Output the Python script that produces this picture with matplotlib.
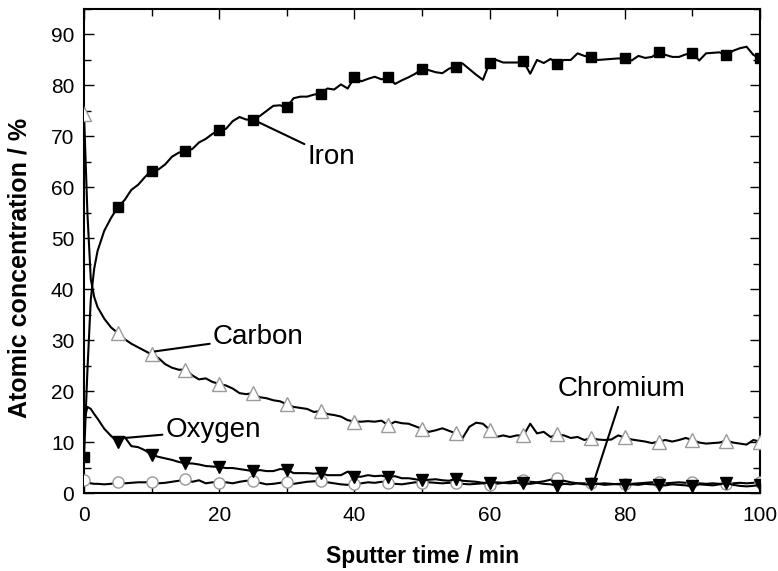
import numpy as np
import matplotlib
matplotlib.use("Agg")
import matplotlib.pyplot as plt
from matplotlib.ticker import MultipleLocator

plt.rcParams['font.family'] = ['Liberation Sans', 'DejaVu Sans']

# sputter time (min): fine steps at the start, then every minute
time_min = [0, 0.5, 1, 1.5, 2] + list(range(3, 101))

iron = [7.0, 24.0, 38.0, 44.0, 47.5, 51.5, 54.0, 56.1, 57.5, 59.5,
        60.5, 62.0, 63.3, 63.5, 64.5, 66.0, 66.8, 67.2, 67.5, 68.8,
        69.5, 70.5, 71.2, 71.5, 73.0, 73.8, 73.3, 73.3, 74.0, 75.0,
        76.0, 76.1, 75.7, 77.5, 77.8, 77.8, 78.2, 78.4, 79.4, 79.2,
        80.2, 79.4, 81.6, 80.8, 81.3, 81.7, 81.2, 81.6, 80.3, 81.0,
        81.6, 82.3, 83.3, 83.0, 82.6, 82.4, 83.3, 83.7, 84.3, 83.2,
        82.1, 81.1, 84.5, 85.0, 84.5, 84.5, 84.5, 84.7, 82.3, 85.0,
        84.4, 85.2, 84.3, 85.0, 85.0, 86.3, 85.8, 85.5, 85.0, 85.1,
        85.2, 85.3, 85.3, 84.9, 85.8, 85.4, 85.6, 86.5, 86.0, 85.6,
        85.6, 86.1, 86.3, 84.9, 86.3, 86.4, 86.5, 85.9, 86.8, 87.3,
        87.6, 86.0, 85.3]

carbon = [74.3, 55.0, 42.0, 38.5, 36.5, 34.2, 32.5, 31.4, 30.2, 29.3,
          28.6, 27.9, 27.2, 26.5, 25.3, 24.6, 24.2, 24.2, 23.1, 22.3,
          22.5, 21.8, 21.4, 21.1, 20.5, 19.6, 19.4, 19.6, 18.8, 18.6,
          18.2, 18.0, 17.4, 16.9, 16.7, 16.5, 15.9, 16.1, 15.5, 15.3,
          15.0, 14.3, 14.0, 14.0, 14.1, 14.0, 14.2, 13.3, 14.0, 13.7,
          13.6, 13.1, 12.6, 12.0, 12.3, 12.7, 12.2, 11.7, 10.8, 13.0,
          13.8, 13.6, 12.4, 11.0, 11.3, 11.0, 11.3, 11.3, 13.6, 11.7,
          12.0, 11.0, 11.5, 11.3, 10.8, 11.0, 10.4, 10.8, 10.5, 10.4,
          10.5, 11.3, 10.9, 10.5, 10.3, 10.1, 9.8, 10.1, 10.4, 10.1,
          10.4, 10.8, 10.4, 9.9, 9.7, 9.8, 9.9, 10.3, 9.9, 9.7,
          9.5, 10.4, 10.1]

oxygen = [14.0, 16.9, 16.5, 15.5, 14.6, 12.6, 11.2, 10.0, 11.0, 9.2,
          9.0, 8.4, 7.5, 7.1, 6.8, 6.5, 6.1, 5.8, 5.8, 5.6,
          5.3, 5.2, 5.1, 4.9, 4.9, 4.7, 4.5, 4.3, 4.5, 4.3,
          4.3, 4.7, 4.6, 3.9, 3.9, 3.9, 3.8, 3.9, 3.5, 3.5,
          3.5, 4.2, 3.2, 3.2, 3.5, 3.3, 3.4, 3.1, 3.3, 2.9,
          2.9, 2.7, 2.5, 2.6, 2.7, 2.5, 2.4, 2.8, 2.4, 2.3,
          2.2, 2.0, 2.0, 2.1, 2.0, 1.9, 2.0, 1.9, 1.8, 2.0,
          1.8, 1.7, 1.4, 1.8, 1.7, 1.9, 1.7, 1.7, 1.8, 1.6,
          1.7, 1.8, 1.6, 1.7, 1.6, 1.8, 1.7, 1.6, 1.5, 1.7,
          1.6, 1.5, 1.3, 1.7, 1.6, 1.5, 1.7, 2.0, 1.6, 1.4,
          1.3, 1.4, 1.6]

chromium = [2.5, 2.1, 1.9, 1.8, 1.8, 1.7, 1.8, 2.2, 1.9, 2.0,
            2.1, 2.1, 2.2, 1.9, 2.0, 2.2, 2.4, 2.7, 2.2, 2.5,
            1.9, 2.1, 2.0, 2.1, 1.9, 2.2, 2.4, 2.4, 2.0, 1.7,
            1.8, 2.0, 2.2, 1.8, 2.0, 2.2, 2.3, 2.4, 2.1, 1.9,
            1.7, 1.6, 1.8, 1.9, 2.1, 2.0, 2.2, 2.0, 1.8, 1.7,
            1.9, 2.1, 2.0, 2.1, 2.0, 1.9, 2.0, 1.9, 1.8, 1.7,
            1.8, 1.9, 1.6, 1.8, 2.0, 2.2, 2.4, 2.5, 2.2, 2.1,
            2.3, 2.6, 2.9, 2.4, 2.1, 1.9, 1.9, 1.9, 1.8, 1.9,
            1.8, 1.7, 1.7, 1.8, 1.9, 2.0, 2.1, 2.1, 1.9, 2.0,
            2.1, 2.0, 2.1, 1.9, 1.8, 1.9, 1.8, 1.8, 1.9, 2.0,
            1.9, 2.0, 2.2]

t = np.array(time_min)
# symbols sit on every 5 min point
every5 = np.where(np.isclose(np.mod(t, 5), 0))[0]
every5_no0 = every5[1:]

fig = plt.figure(figsize=(7.78, 5.71), dpi=100)
ax = fig.add_axes([0.108, 0.1366, 0.869, 0.8476])

lw = 1.5
gray = '#9a9a9a'
ax.plot(t, chromium, color='black', lw=lw, marker='o', markevery=list(every5),
        ms=8, mfc='white', mec=gray, mew=1.0, zorder=3)
ax.plot(t, oxygen, color='black', lw=lw, marker='v', markevery=list(every5_no0),
        ms=8, mfc='black', mec='black', zorder=4)
ax.plot(t, carbon, color='black', lw=lw, marker='^', markevery=list(every5),
        ms=10, mfc='white', mec=gray, mew=1.0, zorder=3)
ax.plot(t, iron, color='black', lw=lw, marker='s', markevery=list(every5),
        ms=7, mfc='black', mec='black', zorder=4)

ax.set_xlim(0, 100)
ax.set_ylim(0, 95)
ax.xaxis.set_major_locator(MultipleLocator(20))
ax.xaxis.set_minor_locator(MultipleLocator(10))
ax.yaxis.set_major_locator(MultipleLocator(10))
ax.yaxis.set_minor_locator(MultipleLocator(5))
ax.tick_params(which='both', direction='in', top=True, right=True,
               labelsize=15, width=1.0)
ax.tick_params(which='major', length=7)
ax.tick_params(axis='x', which='major', pad=9)
ax.tick_params(axis='y', which='major', pad=7)
ax.tick_params(which='minor', length=5)
for s in ax.spines.values():
    s.set_linewidth(1.5)

ax.set_xlabel('Sputter time / min', fontsize=16.5, fontweight='bold')
ax.set_ylabel('Atomic concentration / %', fontsize=18, fontweight='bold')
ax.xaxis.set_label_coords(0.5, -0.108)
ax.yaxis.set_label_coords(-0.077, 0.465)

# species labels with leader lines
lab = dict(fontsize=20, va='center', ha='left')
leader = dict(arrowstyle='-', color='black', lw=1.5, shrinkA=0, shrinkB=0)
ax.annotate('Iron', xy=(25, 73.3), xytext=(33, 66.0), arrowprops=leader, **lab)
ax.annotate('Carbon', xy=(10.5, 27.8), xytext=(19, 30.6), arrowprops=leader, **lab)
ax.annotate('Oxygen', xy=(6, 10.8), xytext=(12, 12.3), arrowprops=leader, **lab)
ax.text(70.0, 20.5, 'Chromium', **lab)
ax.annotate('', xy=(75.5, 2.6), xytext=(79, 16.9), arrowprops=leader)

fig.savefig('out.png', dpi=100)
